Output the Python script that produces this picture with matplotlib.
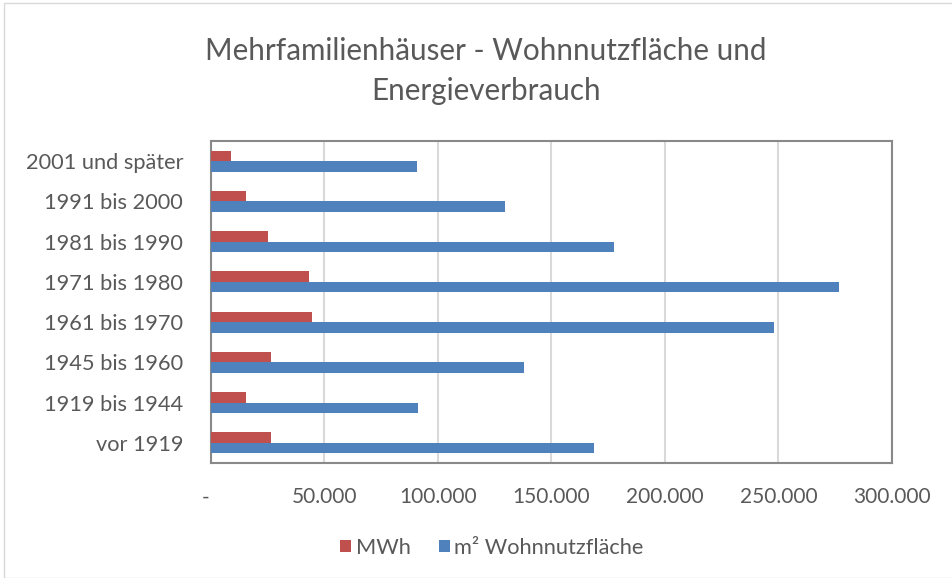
import matplotlib
matplotlib.use("Agg")
import matplotlib.pyplot as plt
import matplotlib.transforms as mtransforms
from matplotlib.patches import Rectangle
import numpy as np

categories = ["vor 1919", "1919 bis 1944", "1945 bis 1960", "1961 bis 1970",
              "1971 bis 1980", "1981 bis 1990", "1991 bis 2000", "2001 und später"]
mwh = [26300, 15400, 26300, 44400, 43300, 25000, 15600, 8800]
wohnflaeche = [168900, 91100, 137900, 248200, 276500, 177400, 129700, 90900]
xticks = [0, 50000, 100000, 150000, 200000, 250000, 300000]
xticklabels = ["-", "50.000", "100.000", "150.000", "200.000", "250.000", "300.000"]
series_names = ["MWh", "m² Wohnnutzfläche"]
title = "Mehrfamilienhäuser - Wohnnutzfläche und\nEnergieverbrauch"

plt.rcParams['font.family'] = ['Lato', 'DejaVu Sans']
text_color = "#595959"
red = "#C0504D"
blue = "#4F81BD"

W, H = 953, 578
fig = plt.figure(figsize=(W / 100, H / 100), dpi=100)
fig.patch.set_facecolor("white")

# outer chart border
fig.patches.append(Rectangle((4 / W, 0), 1.2, 1 - 3 / H, transform=fig.transFigure,
                             fill=False, edgecolor="#d9d9d9", linewidth=1.0))

left, right, top, bottom = 211, 892, 141, 463
ax = fig.add_axes([left / W, 1 - bottom / H, (right - left) / W, (bottom - top) / H])

y = np.arange(len(categories))
h = 0.26
ax.barh(y + h / 2, mwh, height=h, color=red, label=series_names[0], zorder=3)
ax.barh(y - h / 2, wohnflaeche, height=h, color=blue, label=series_names[1], zorder=3)

ax.set_ylim(-0.5, len(categories) - 0.5)
ax.set_xlim(0, 300000)
ax.set_yticks(y)
ax.set_yticklabels(categories)
ax.set_xticks(xticks)
ax.set_xticklabels(xticklabels)
ax.tick_params(axis='y', length=0, pad=20, labelsize=15.7, labelcolor=text_color)
ax.tick_params(axis='x', length=0, pad=17.5, labelsize=15, labelcolor=text_color)
# shift "-" label slightly left
lbl0 = ax.get_xticklabels()[0]
lbl0.set_transform(lbl0.get_transform() + mtransforms.ScaledTranslation(-5 / 100, 0, fig.dpi_scale_trans))

ax.grid(axis='x', color="#d9d9d9", linewidth=1.5, zorder=0)
for s in ax.spines.values():
    s.set_color("#898989")
    s.set_linewidth(1.5)

fig.text(486 / W, 1 - 71 / H, title, ha='center', va='center', fontsize=21.3,
         color=text_color, linespacing=1.5)

handles, labels = ax.get_legend_handles_labels()
fig.legend(handles, labels, loc='center', bbox_to_anchor=(492 / W, 1 - 548 / H),
           ncol=2, frameon=False, fontsize=15.7, labelcolor=text_color,
           handlelength=0.5, handleheight=0.5, handletextpad=0.2, columnspacing=1.3)

fig.savefig("out.png", dpi=100)
